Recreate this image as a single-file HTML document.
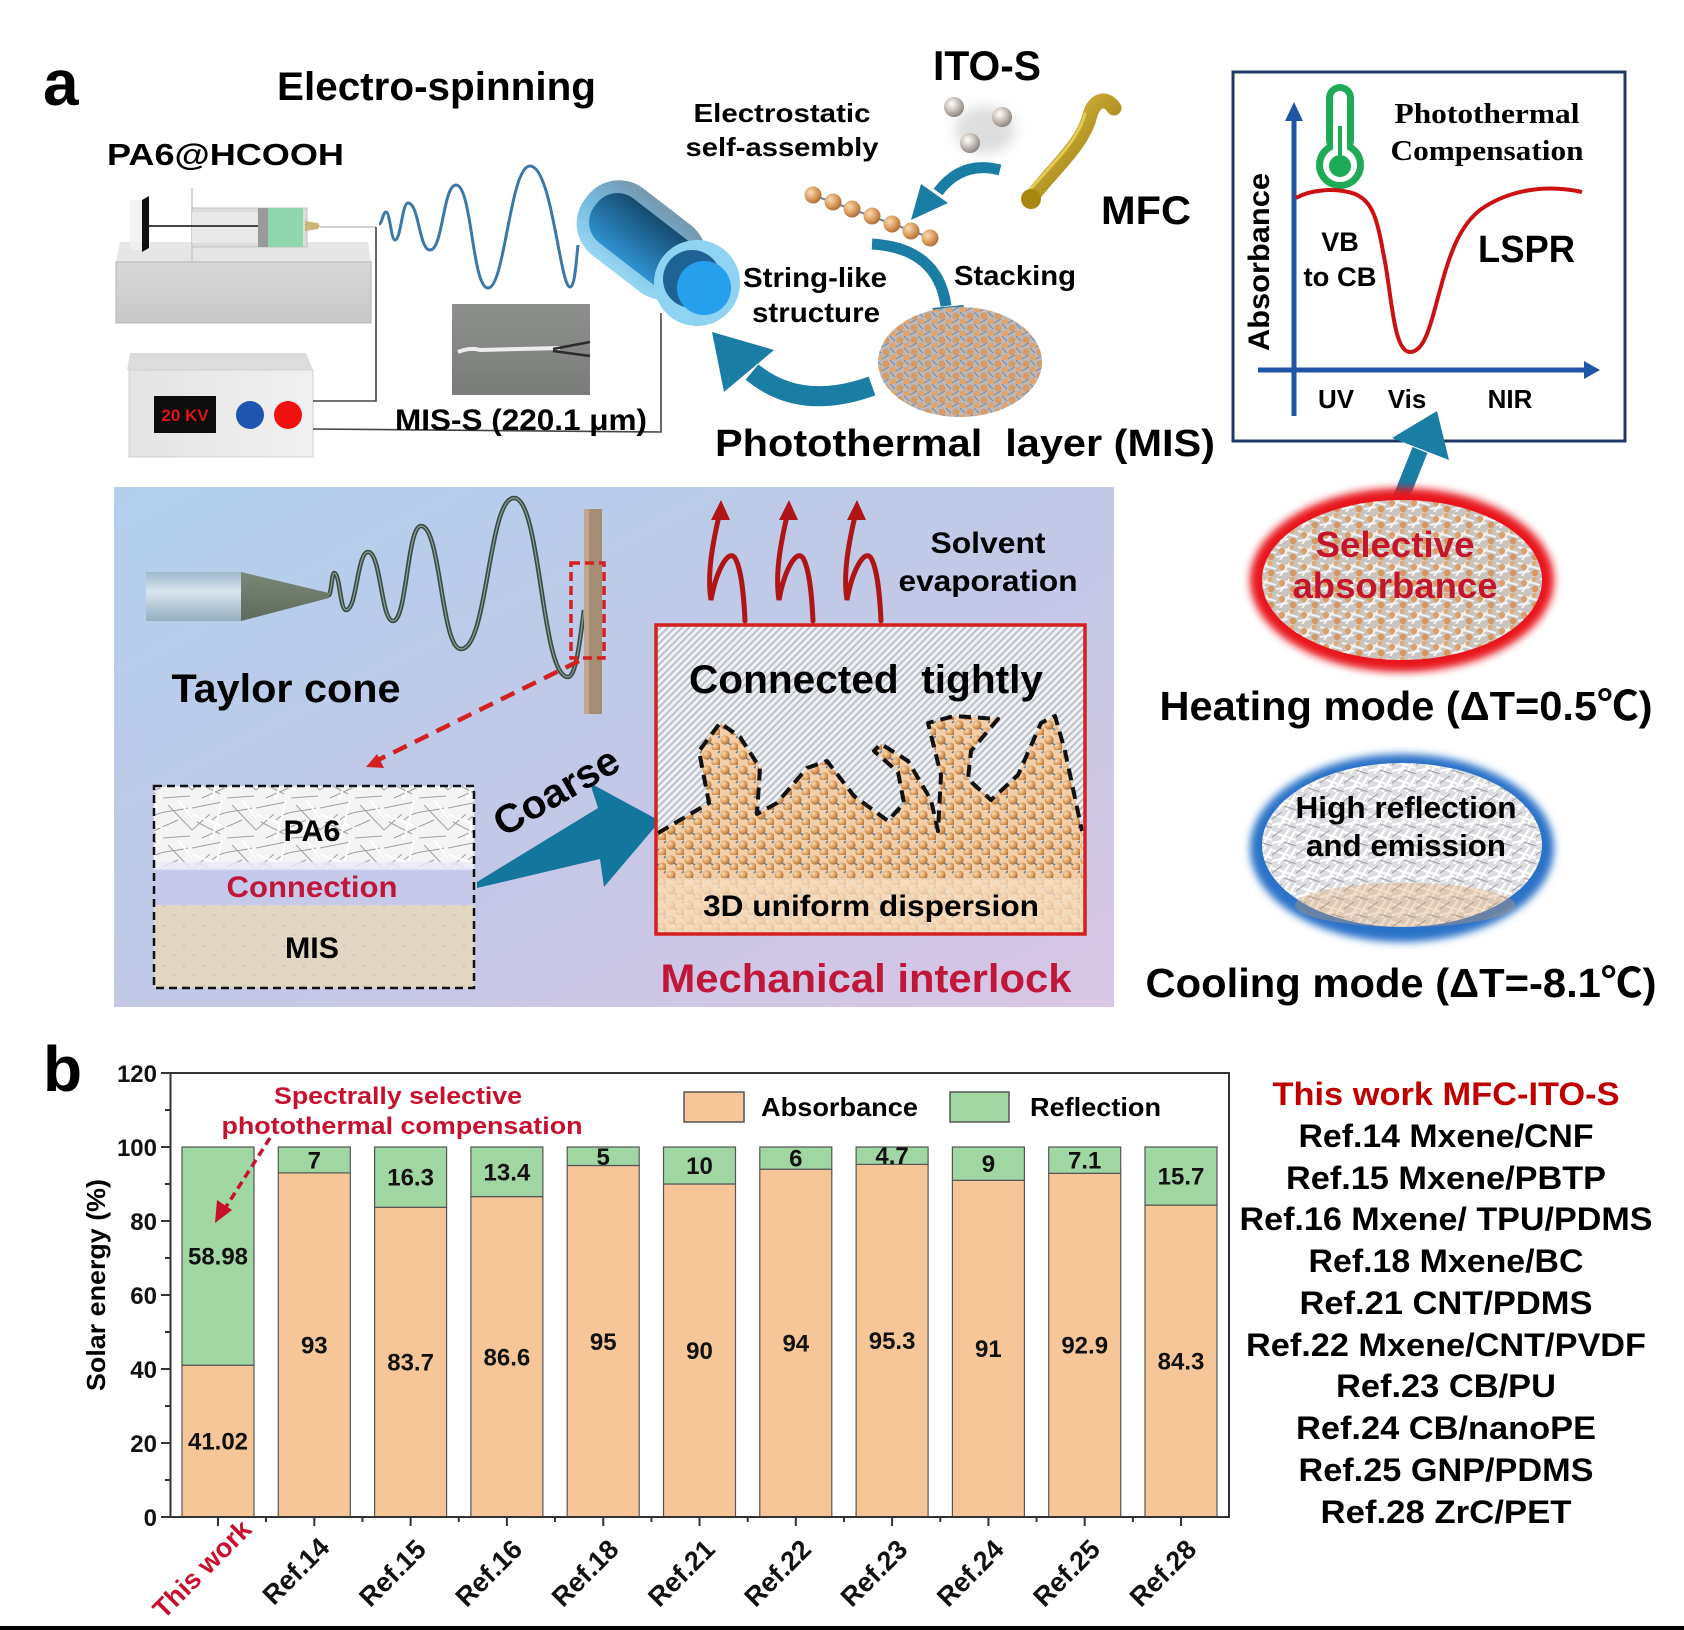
<!DOCTYPE html>
<html><head><meta charset="utf-8">
<style>
html,body{margin:0;padding:0;background:#fff;}
svg{display:block;}
text{font-family:"Liberation Sans","Noto Sans CJK SC",sans-serif;font-weight:bold;}
.sf{font-family:"Liberation Serif",serif;}
</style></head><body>
<svg xmlns="http://www.w3.org/2000/svg" width="1684" height="1630" viewBox="0 0 1684 1630">
<defs>
<linearGradient id="panel" x1="0" y1="0" x2="1" y2="1">
 <stop offset="0" stop-color="#b2d0ec"/><stop offset="0.55" stop-color="#c3c8e6"/><stop offset="1" stop-color="#d8c6e4"/>
</linearGradient>
<linearGradient id="pumpFront" x1="0" y1="0" x2="0" y2="1"><stop offset="0" stop-color="#d8d8d8"/><stop offset="1" stop-color="#c8c8c8"/></linearGradient>
<linearGradient id="boxFront" x1="0" y1="0" x2="1" y2="0"><stop offset="0" stop-color="#e4e4e4"/><stop offset="1" stop-color="#f0f0f0"/></linearGradient>
<linearGradient id="photo" x1="0" y1="0" x2="0" y2="1"><stop offset="0" stop-color="#8e908e"/><stop offset="1" stop-color="#7a7c7a"/></linearGradient>
<linearGradient id="tubeOut" x1="0" y1="0" x2="0" y2="1"><stop offset="0" stop-color="#92d4f2"/><stop offset="0.5" stop-color="#6cb6dc"/><stop offset="1" stop-color="#6e93aa"/></linearGradient>
<linearGradient id="tubeIn" x1="0" y1="0" x2="0" y2="1"><stop offset="0" stop-color="#2e93d0"/><stop offset="1" stop-color="#164b70"/></linearGradient>
<linearGradient id="needle" x1="0" y1="0" x2="0" y2="1"><stop offset="0" stop-color="#9fb8cc"/><stop offset="0.4" stop-color="#dbe6ee"/><stop offset="1" stop-color="#93adc0"/></linearGradient>
<linearGradient id="cone" x1="0" y1="0" x2="0" y2="1"><stop offset="0" stop-color="#7b8777"/><stop offset="1" stop-color="#5d6a5c"/></linearGradient>
<linearGradient id="gold" x1="0" y1="0" x2="1" y2="1"><stop offset="0" stop-color="#e6c84a"/><stop offset="1" stop-color="#8a6a06"/></linearGradient>
<radialGradient id="bead" cx="0.35" cy="0.35" r="0.7"><stop offset="0" stop-color="#f8dcb4"/><stop offset="0.6" stop-color="#d9995a"/><stop offset="1" stop-color="#a86a34"/></radialGradient>
<radialGradient id="ito" cx="0.38" cy="0.35" r="0.7"><stop offset="0" stop-color="#ffffff"/><stop offset="0.5" stop-color="#c9c1b9"/><stop offset="1" stop-color="#857f7a"/></radialGradient>
<pattern id="fib" width="64" height="40" patternUnits="userSpaceOnUse"><rect width="64" height="40" fill="#f4f4f4"/><path d="M0,8 L30,2 M10,38 L50,20 M40,5 L64,30 M20,20 C30,10 45,12 60,8 M0,30 L18,14 M35,38 L62,36 M5,22 L28,34" stroke="#a0a0a0" stroke-width="1" fill="none"/><path d="M0,14 L40,30 M30,0 L20,40 M50,0 L64,18" stroke="#fff" stroke-width="2"/></pattern>
<pattern id="misTex" width="14" height="12" patternUnits="userSpaceOnUse"><rect width="14" height="12" fill="#b9b9bf"/><circle cx="4" cy="4" r="3.6" fill="#d99b62"/><circle cx="11" cy="10" r="3.6" fill="#dfa56c"/><path d="M0,11 L7,7 M8,0 L13,5" stroke="#7b8796" stroke-width="1"/></pattern>
<pattern id="heatTex" width="22" height="16" patternUnits="userSpaceOnUse"><rect width="22" height="16" fill="#cac4be"/><path d="M0,3 L22,9 M4,16 L16,0 M0,13 L12,11" stroke="#f3f3f3" stroke-width="2"/><circle cx="6" cy="7" r="3.2" fill="#dba06a"/><circle cx="17" cy="13" r="3.2" fill="#d69660"/><circle cx="16" cy="3" r="2.6" fill="#e0aa76"/></pattern>
<pattern id="coolTex" width="24" height="18" patternUnits="userSpaceOnUse"><rect width="24" height="18" fill="#dcdde0"/><path d="M0,4 L24,12 M6,18 L18,0 M0,15 L14,12 M14,18 L24,2" stroke="#fff" stroke-width="2.2"/><path d="M0,9 L10,2 M12,14 L24,18" stroke="#9c9ca4" stroke-width="1"/></pattern>
<pattern id="parts" width="18" height="15" patternUnits="userSpaceOnUse"><rect width="18" height="15" fill="#f2cfa9"/><circle cx="5" cy="5" r="4.6" fill="url(#bead)"/><circle cx="14" cy="12" r="4.6" fill="url(#bead)"/><path d="M8,8 L11,10 M16,3 L18,1" stroke="#5f7d9e" stroke-width="1.6"/></pattern>
<pattern id="hatch" width="5" height="5" patternUnits="userSpaceOnUse" patternTransform="rotate(45)"><rect width="5" height="5" fill="#f0f1f4"/><rect width="2" height="5" fill="#bcc0c9"/></pattern>
<pattern id="beige" width="20" height="20" patternUnits="userSpaceOnUse"><rect width="20" height="20" fill="#e0d6c2"/><circle cx="4" cy="6" r="0.8" fill="#b8ab95"/><circle cx="14" cy="15" r="0.8" fill="#c2b6a0"/></pattern>
<filter id="blur4" x="-20%" y="-20%" width="140%" height="140%"><feGaussianBlur stdDeviation="4"/></filter>
<filter id="blur6" x="-20%" y="-20%" width="140%" height="140%"><feGaussianBlur stdDeviation="6"/></filter>
</defs>

<rect width="1684" height="1630" fill="#fff"/>

<!-- ================= PART A TOP ================= -->
<text x="43" y="105" font-size="64">a</text>
<text x="277" y="100" font-size="40" textLength="319" lengthAdjust="spacingAndGlyphs">Electro-spinning</text>
<text x="107" y="165" font-size="31" textLength="237" lengthAdjust="spacingAndGlyphs">PA6@HCOOH</text>

<!-- syringe pump -->
<polygon points="120,242 368,242 371,262 116,262" fill="#e6e6e6"/>
<rect x="116" y="262" width="255" height="61" fill="url(#pumpFront)" stroke="#b4b4b4" stroke-width="1"/>
<rect x="130" y="200" width="20" height="50" fill="#f0f0f0" opacity="0.8"/>
<line x1="192" y1="188" x2="192" y2="262" stroke="#c8c8c8" stroke-width="1.5"/>
<rect x="192" y="208" width="115" height="39" fill="#dcdcdc" stroke="#c0c0c0"/>
<rect x="192" y="212" width="66" height="31" fill="#e8e8e8"/>
<rect x="258" y="208" width="10" height="39" fill="#9a9a9a"/>
<rect x="268" y="208" width="35" height="39" fill="#8fd6ae"/>
<polygon points="305,221 318,223 320,226 318,229 305,231" fill="#c9b57a"/>
<line x1="148" y1="226" x2="258" y2="226" stroke="#444" stroke-width="2"/>
<polygon points="142,200 149,196 149,248 142,252" fill="#111"/>
<line x1="320" y1="227" x2="376" y2="227" stroke="#c4c4c4" stroke-width="1.5"/>

<!-- power supply -->
<polygon points="130,353 306,353 313,370 127,370" fill="#dcdcdc"/>
<rect x="129" y="370" width="184" height="87" fill="url(#boxFront)" stroke="#d0d0d0"/>
<rect x="154" y="396" width="62" height="37" fill="#0c0c0c"/>
<text x="185" y="421" font-size="17" fill="#e01414" text-anchor="middle">20 KV</text>
<circle cx="250" cy="415" r="14" fill="#1f55b0"/>
<circle cx="288" cy="415" r="14" fill="#f01010"/>

<!-- wires -->
<polyline points="376,227 376,401 313,401" fill="none" stroke="#444" stroke-width="1.6"/>
<polyline points="313,429 661,432 661,313" fill="none" stroke="#444" stroke-width="1.6"/>

<!-- photo -->
<rect x="452" y="304" width="138" height="91" fill="url(#photo)"/>
<path d="M458,352 Q470,347 480,350 L560,348" stroke="#ececec" stroke-width="4" fill="none"/>
<path d="M553,349 L590,342 M553,351 L590,356" stroke="#2a2a2a" stroke-width="2.5"/>
<text x="395" y="430" font-size="30" textLength="252" lengthAdjust="spacingAndGlyphs">MIS-S (220.1 μm)</text>

<!-- blue spiral -->
<path d="M379,224 C382,224 383,212 386,212 C390,212 391,240 395,240 C401,240 402,203 408,203 C419,203 419,250 430,250 C443,250 443,185 456,185 C472,185 472,288 488,288 C505,288 510,166 530,166 C552,166 560,287 570,287 C575,287 576,262 578,245" fill="none" stroke="#3a78a8" stroke-width="3"/>

<!-- collector tube -->
<g transform="translate(697,283) rotate(-142.3)">
 <rect x="0" y="-42" width="140" height="84" rx="40" fill="url(#tubeOut)" opacity="0.95"/>
 <rect x="0" y="-28" width="128" height="56" rx="26" fill="url(#tubeIn)"/>
</g>
<circle cx="697" cy="283" r="43" fill="#8fd3f3"/>
<circle cx="692" cy="279" r="29" fill="#1d6494"/>
<circle cx="704" cy="288" r="27" fill="#26a0ec"/>

<!-- ITO-S and MFC -->
<text x="933" y="80" font-size="42" textLength="108" lengthAdjust="spacingAndGlyphs">ITO-S</text>
<text x="782" y="122" font-size="26" text-anchor="middle" textLength="177" lengthAdjust="spacingAndGlyphs">Electrostatic</text>
<text x="782" y="156" font-size="26" text-anchor="middle" textLength="193" lengthAdjust="spacingAndGlyphs">self-assembly</text>
<ellipse cx="985" cy="130" rx="30" ry="24" fill="#c8c8c8" opacity="0.6" filter="url(#blur6)"/>
<circle cx="954" cy="107" r="10" fill="url(#ito)"/>
<circle cx="1002" cy="117" r="10" fill="url(#ito)"/>
<circle cx="970" cy="143" r="10" fill="url(#ito)"/>
<path d="M1031,198 C1050,172 1083,145 1090,115 C1094,100 1106,96 1114,108" fill="none" stroke="url(#gold)" stroke-width="15" stroke-linecap="round"/>
<path d="M1028,192 C1048,168 1078,142 1085,114" fill="none" stroke="#efd460" stroke-width="3" stroke-linecap="round" opacity="0.8"/>
<circle cx="1031" cy="199" r="10" fill="#a88610"/>
<text x="1101" y="224" font-size="40" textLength="90" lengthAdjust="spacingAndGlyphs">MFC</text>

<!-- bead chain -->
<line x1="810" y1="194" x2="934" y2="239" stroke="#6a7f9a" stroke-width="2"/>
<circle cx="813" cy="195" r="8.5" fill="url(#bead)"/>
<circle cx="833" cy="202" r="8.5" fill="url(#bead)"/>
<circle cx="852" cy="209" r="8.5" fill="url(#bead)"/>
<circle cx="872" cy="216" r="8.5" fill="url(#bead)"/>
<circle cx="892" cy="224" r="8.5" fill="url(#bead)"/>
<circle cx="911" cy="231" r="8.5" fill="url(#bead)"/>
<circle cx="930" cy="238" r="8.5" fill="url(#bead)"/>

<!-- teal arrows -->
<path d="M1000,170 Q962,160 938,192" fill="none" stroke="#1a7da3" stroke-width="11"/>
<polygon points="911,220 921,184 948,203" fill="#1a7da3"/>
<path d="M872,244 Q938,248 946,306" fill="none" stroke="#1a7da3" stroke-width="11"/>
<polygon points="953,339 932,308 964,305" fill="#1a7da3"/>
<path d="M872,386 Q800,412 752,372" fill="none" stroke="#1a7da3" stroke-width="20"/>
<polygon points="712,332 724,392 774,350" fill="#1a7da3"/>

<text x="815" y="287" font-size="28" text-anchor="middle" textLength="144" lengthAdjust="spacingAndGlyphs">String-like</text>
<text x="816" y="322" font-size="28" text-anchor="middle" textLength="128" lengthAdjust="spacingAndGlyphs">structure</text>
<text x="1015" y="285" font-size="28" text-anchor="middle" textLength="122" lengthAdjust="spacingAndGlyphs">Stacking</text>

<!-- MIS disc -->
<ellipse cx="960" cy="362" rx="82" ry="55" fill="url(#misTex)"/>
<text x="715" y="456" font-size="38" textLength="500" lengthAdjust="spacingAndGlyphs">Photothermal&#160; layer (MIS)</text>

<!-- right box -->
<rect x="1233" y="72" width="392" height="369" fill="#fff" stroke="#1f3864" stroke-width="3"/>
<line x1="1294" y1="416" x2="1294" y2="116" stroke="#1f55a5" stroke-width="5"/>
<polygon points="1294,102 1285,121 1303,121" fill="#1f55a5"/>
<line x1="1258" y1="370" x2="1588" y2="370" stroke="#1f55a5" stroke-width="5"/>
<polygon points="1600,370 1584,361 1584,379" fill="#1f55a5"/>
<rect x="1326" y="84" width="28" height="70" rx="14" fill="#1faa55"/>
<circle cx="1340" cy="165" r="24" fill="#1faa55"/>
<rect x="1333" y="91" width="14" height="66" rx="7" fill="#fff"/>
<circle cx="1340" cy="165" r="17" fill="#fff"/>
<circle cx="1340" cy="166" r="11" fill="#1faa55"/>
<rect x="1338" y="126" width="4" height="36" fill="#1faa55"/>
<text class="sf" x="1487" y="123" font-size="29" text-anchor="middle" textLength="185" lengthAdjust="spacingAndGlyphs">Photothermal</text>
<text class="sf" x="1487" y="160" font-size="29" text-anchor="middle" textLength="193" lengthAdjust="spacingAndGlyphs">Compensation</text>
<path d="M1296,198 C1310,190 1335,187 1355,194 C1375,202 1378,225 1385,262 C1392,300 1394,352 1410,352 C1426,352 1432,318 1440,290 C1450,252 1460,226 1480,210 C1508,190 1545,184 1582,192" fill="none" stroke="#cc1111" stroke-width="4"/>
<text x="1340" y="251" font-size="27" text-anchor="middle">VB</text>
<text x="1340" y="286" font-size="27" text-anchor="middle" textLength="73" lengthAdjust="spacingAndGlyphs">to CB</text>
<text x="1478" y="262" font-size="38" textLength="97" lengthAdjust="spacingAndGlyphs">LSPR</text>
<text x="1336" y="408" font-size="26" text-anchor="middle">UV</text>
<text x="1407" y="408" font-size="26" text-anchor="middle">Vis</text>
<text x="1510" y="408" font-size="26" text-anchor="middle">NIR</text>
<text transform="translate(1269,262) rotate(-90)" font-size="30" text-anchor="middle" textLength="178" lengthAdjust="spacingAndGlyphs">Absorbance</text>

<!-- teal arrow up from heating disc -->
<path d="M1398,505 L1420,450" stroke="#1a7da3" stroke-width="16"/>
<polygon points="1437,411 1392,438 1449,460" fill="#1a7da3"/>

<!-- ================= MIDDLE PANEL ================= -->
<rect x="114" y="487" width="1000" height="520" fill="url(#panel)"/>
<rect x="146" y="572" width="95" height="49" fill="url(#needle)"/>
<polygon points="241,572 241,621 329,598 329,593" fill="url(#cone)"/>
<path d="M329,595 C331,595 332,573 334,573 C340,573 340,610 346,610 C357,610 357,552 368,552 C381,552 381,621 393,621 C407,621 407,526 421,526 C441,526 441,649 461,649 C488,649 488,498 514,498 C541,498 541,677 568,677 C576,677 580,640 584,610" fill="none" stroke="#3a4c44" stroke-width="4.5"/>
<path d="M329,595 C331,595 332,573 334,573 C340,573 340,610 346,610 C357,610 357,552 368,552 C381,552 381,621 393,621 C407,621 407,526 421,526 C441,526 441,649 461,649 C488,649 488,498 514,498 C541,498 541,677 568,677 C576,677 580,640 584,610" fill="none" stroke="#8ea298" stroke-width="1.2"/>
<rect x="584" y="509" width="18" height="205" fill="#a58c75"/>
<rect x="584" y="509" width="5" height="205" fill="#c0a890"/>
<rect x="571" y="563" width="33" height="95" fill="none" stroke="#d42020" stroke-width="3.5" stroke-dasharray="9,5"/>
<line x1="579" y1="661" x2="378" y2="760" stroke="#d42020" stroke-width="4.5" stroke-dasharray="15,9"/>
<polygon points="366,767 384,768 377,754" fill="#d42020"/>
<text x="286" y="702" font-size="40" text-anchor="middle" textLength="229" lengthAdjust="spacingAndGlyphs">Taylor cone</text>

<rect x="154" y="786" width="320" height="82" fill="url(#fib)"/>
<rect x="154" y="868" width="320" height="37" fill="#c6c9e9"/>
<rect x="154" y="862" width="320" height="8" fill="#e8eaf6" opacity="0.8"/>
<rect x="154" y="905" width="320" height="83" fill="url(#beige)"/>
<rect x="154" y="786" width="320" height="202" fill="none" stroke="#111" stroke-width="2.5" stroke-dasharray="8,5"/>
<text x="312" y="841" font-size="30" text-anchor="middle" textLength="57" lengthAdjust="spacingAndGlyphs">PA6</text>
<text x="312" y="897" font-size="30" text-anchor="middle" fill="#c0163a" textLength="171" lengthAdjust="spacingAndGlyphs">Connection</text>
<text x="312" y="958" font-size="30" text-anchor="middle" textLength="54" lengthAdjust="spacingAndGlyphs">MIS</text>

<polygon points="477,882 598,808 590,783 660,821 604,887 600,859 477,888" fill="#13769d"/>
<text transform="translate(563,803) rotate(-30)" font-size="40" text-anchor="middle" textLength="138" lengthAdjust="spacingAndGlyphs">Coarse</text>

<!-- squiggle arrows -->
<g fill="none" stroke="#b01515" stroke-width="5" stroke-linecap="round">
 <path d="M745,621 C744,600 742,570 735,558 C728,548 716,572 711,600 C707,575 712,545 720,512"/>
 <path d="M813,621 C812,600 810,570 803,558 C796,548 784,572 779,600 C775,575 780,545 788,512"/>
 <path d="M881,621 C880,600 878,570 871,558 C864,548 852,572 847,600 C843,575 848,545 856,512"/>
</g>
<g fill="#b01515">
 <polygon points="721,500 711,520 730,520"/>
 <polygon points="789,500 779,520 798,520"/>
 <polygon points="857,500 847,520 866,520"/>
</g>
<text x="988" y="553" font-size="30" text-anchor="middle" textLength="115" lengthAdjust="spacingAndGlyphs">Solvent</text>
<text x="988" y="591" font-size="30" text-anchor="middle" textLength="179" lengthAdjust="spacingAndGlyphs">evaporation</text>

<!-- red box -->
<rect x="656" y="625" width="429" height="309" fill="url(#hatch)"/>
<polygon points="658,833 709,803 699,751 720,723 740,737 760,768 757,814 777,803 807,768 827,761 854,796 888,821 904,803 898,772 874,751 881,744 908,761 931,800 938,831 941,775 928,723 954,716 998,719 971,751 968,779 991,800 1018,775 1041,723 1055,716 1065,751 1082,831 1084,934 657,934" fill="url(#parts)"/>
<rect x="657" y="878" width="427" height="56" fill="#f7ddc3" opacity="0.75"/>
<polyline points="658,833 709,803 699,751 720,723 740,737 760,768 757,814 777,803 807,768 827,761 854,796 888,821 904,803 898,772 874,751 881,744 908,761 931,800 938,831 941,775 928,723 954,716 998,719 971,751 968,779 991,800 1018,775 1041,723 1055,716 1065,751 1082,831" fill="none" stroke="#111" stroke-width="4" stroke-dasharray="12,7" stroke-linejoin="round"/>
<rect x="656" y="625" width="429" height="309" fill="none" stroke="#d42020" stroke-width="3.5"/>
<text x="866" y="693" font-size="40" text-anchor="middle" textLength="354" lengthAdjust="spacingAndGlyphs">Connected&#160; tightly</text>
<text x="871" y="916" font-size="30" text-anchor="middle" textLength="336" lengthAdjust="spacingAndGlyphs">3D uniform dispersion</text>
<text x="866" y="992" font-size="40" text-anchor="middle" fill="#c0163a" textLength="411" lengthAdjust="spacingAndGlyphs">Mechanical interlock</text>

<!-- ================= RIGHT DISCS ================= -->
<ellipse cx="1402" cy="580" rx="152" ry="92" fill="#e8141c" filter="url(#blur4)"/>
<ellipse cx="1402" cy="580" rx="140" ry="80" fill="url(#heatTex)"/>
<text x="1395" y="557" font-size="36" text-anchor="middle" fill="#c4162a" textLength="159" lengthAdjust="spacingAndGlyphs">Selective</text>
<text x="1395" y="598" font-size="36" text-anchor="middle" fill="#c4162a" textLength="205" lengthAdjust="spacingAndGlyphs">absorbance</text>
<text x="1406" y="720" font-size="41" text-anchor="middle" textLength="493" lengthAdjust="spacingAndGlyphs">Heating mode (ΔT=0.5℃)</text>

<ellipse cx="1402" cy="848" rx="152" ry="94" fill="#2a72c8" filter="url(#blur4)"/>
<ellipse cx="1402" cy="845" rx="140" ry="82" fill="url(#coolTex)"/>
<ellipse cx="1405" cy="905" rx="110" ry="22" fill="#d9a06a" opacity="0.35"/>
<text x="1406" y="818" font-size="31" text-anchor="middle" textLength="221" lengthAdjust="spacingAndGlyphs">High reflection</text>
<text x="1406" y="856" font-size="31" text-anchor="middle" textLength="200" lengthAdjust="spacingAndGlyphs">and emission</text>
<text x="1401" y="997" font-size="41" text-anchor="middle" textLength="511" lengthAdjust="spacingAndGlyphs">Cooling mode (ΔT=-8.1℃)</text>

<!-- ================= PART B ================= -->
<text x="43" y="1091" font-size="64">b</text>

<g stroke="#555" stroke-width="1.2">
 <rect x="182" y="1365.2" width="72" height="151.8" fill="#f6c699"/>
 <rect x="182" y="1147" width="72" height="218.2" fill="#a0d6a2"/>
 <rect x="278.3" y="1172.9" width="72" height="344.1" fill="#f6c699"/>
 <rect x="278.3" y="1147" width="72" height="25.9" fill="#a0d6a2"/>
 <rect x="374.6" y="1207.3" width="72" height="309.7" fill="#f6c699"/>
 <rect x="374.6" y="1147" width="72" height="60.3" fill="#a0d6a2"/>
 <rect x="470.9" y="1196.6" width="72" height="320.4" fill="#f6c699"/>
 <rect x="470.9" y="1147" width="72" height="49.6" fill="#a0d6a2"/>
 <rect x="567.2" y="1165.5" width="72" height="351.5" fill="#f6c699"/>
 <rect x="567.2" y="1147" width="72" height="18.5" fill="#a0d6a2"/>
 <rect x="663.5" y="1184" width="72" height="333" fill="#f6c699"/>
 <rect x="663.5" y="1147" width="72" height="37" fill="#a0d6a2"/>
 <rect x="759.8" y="1169.2" width="72" height="347.8" fill="#f6c699"/>
 <rect x="759.8" y="1147" width="72" height="22.2" fill="#a0d6a2"/>
 <rect x="856.1" y="1164.4" width="72" height="352.6" fill="#f6c699"/>
 <rect x="856.1" y="1147" width="72" height="17.4" fill="#a0d6a2"/>
 <rect x="952.4" y="1180.3" width="72" height="336.7" fill="#f6c699"/>
 <rect x="952.4" y="1147" width="72" height="33.3" fill="#a0d6a2"/>
 <rect x="1048.7" y="1173.3" width="72" height="343.7" fill="#f6c699"/>
 <rect x="1048.7" y="1147" width="72" height="26.3" fill="#a0d6a2"/>
 <rect x="1145" y="1205.1" width="72" height="311.9" fill="#f6c699"/>
 <rect x="1145" y="1147" width="72" height="58.1" fill="#a0d6a2"/>
</g>

<g font-size="24" text-anchor="middle" fill="#111">
 <text x="218" y="1449.6">41.02</text><text x="218" y="1264.6">58.98</text>
 <text x="314.3" y="1353.5">93</text><text x="314.3" y="1168.5">7</text>
 <text x="410.6" y="1370.7">83.7</text><text x="410.6" y="1185.7">16.3</text>
 <text x="506.9" y="1365.3">86.6</text><text x="506.9" y="1180.3">13.4</text>
 <text x="603.2" y="1349.8">95</text><text x="603.2" y="1164.8">5</text>
 <text x="699.5" y="1359">90</text><text x="699.5" y="1174">10</text>
 <text x="795.8" y="1351.6">94</text><text x="795.8" y="1166.6">6</text>
 <text x="892.1" y="1349.2">95.3</text><text x="892.1" y="1164.2">4.7</text>
 <text x="988.4" y="1357.2">91</text><text x="988.4" y="1172.2">9</text>
 <text x="1084.7" y="1353.6">92.9</text><text x="1084.7" y="1168.6">7.1</text>
 <text x="1181" y="1369.5">84.3</text><text x="1181" y="1184.5">15.7</text>
</g>

<!-- frame -->
<rect x="170.5" y="1073" width="1058.5" height="444" fill="none" stroke="#333" stroke-width="2"/>
<g stroke="#333" stroke-width="2">
 <line x1="161" y1="1517" x2="170" y2="1517"/><line x1="161" y1="1443" x2="170" y2="1443"/>
 <line x1="161" y1="1369" x2="170" y2="1369"/><line x1="161" y1="1295" x2="170" y2="1295"/>
 <line x1="161" y1="1221" x2="170" y2="1221"/><line x1="161" y1="1147" x2="170" y2="1147"/>
 <line x1="161" y1="1073" x2="170" y2="1073"/>
 <line x1="165" y1="1480" x2="170" y2="1480"/><line x1="165" y1="1406" x2="170" y2="1406"/>
 <line x1="165" y1="1332" x2="170" y2="1332"/><line x1="165" y1="1258" x2="170" y2="1258"/>
 <line x1="165" y1="1184" x2="170" y2="1184"/><line x1="165" y1="1110" x2="170" y2="1110"/>
 <line x1="218" y1="1517" x2="218" y2="1526"/><line x1="314.3" y1="1517" x2="314.3" y2="1526"/>
 <line x1="410.6" y1="1517" x2="410.6" y2="1526"/><line x1="506.9" y1="1517" x2="506.9" y2="1526"/>
 <line x1="603.2" y1="1517" x2="603.2" y2="1526"/><line x1="699.5" y1="1517" x2="699.5" y2="1526"/>
 <line x1="795.8" y1="1517" x2="795.8" y2="1526"/><line x1="892.1" y1="1517" x2="892.1" y2="1526"/>
 <line x1="988.4" y1="1517" x2="988.4" y2="1526"/><line x1="1084.7" y1="1517" x2="1084.7" y2="1526"/>
 <line x1="1181" y1="1517" x2="1181" y2="1526"/>
 <line x1="266" y1="1517" x2="266" y2="1522"/><line x1="362.5" y1="1517" x2="362.5" y2="1522"/>
 <line x1="458.8" y1="1517" x2="458.8" y2="1522"/><line x1="555" y1="1517" x2="555" y2="1522"/>
 <line x1="651.4" y1="1517" x2="651.4" y2="1522"/><line x1="747.7" y1="1517" x2="747.7" y2="1522"/>
 <line x1="844" y1="1517" x2="844" y2="1522"/><line x1="940.3" y1="1517" x2="940.3" y2="1522"/>
 <line x1="1036.6" y1="1517" x2="1036.6" y2="1522"/><line x1="1132.9" y1="1517" x2="1132.9" y2="1522"/>
</g>
<g font-size="24" text-anchor="end" fill="#111">
 <text x="157" y="1526">0</text><text x="157" y="1452">20</text><text x="157" y="1378">40</text>
 <text x="157" y="1304">60</text><text x="157" y="1230">80</text><text x="157" y="1156">100</text>
 <text x="157" y="1082">120</text>
</g>
<text transform="translate(105,1285) rotate(-90)" font-size="26" text-anchor="middle" textLength="212" lengthAdjust="spacingAndGlyphs">Solar energy (%)</text>

<g font-size="27" text-anchor="end" fill="#111">
 <text transform="translate(253,1531) rotate(-45)" fill="#c8102e">This work</text>
 <text transform="translate(331,1549) rotate(-45)">Ref.14</text>
 <text transform="translate(427.6,1551) rotate(-45)">Ref.15</text>
 <text transform="translate(523.9,1551) rotate(-45)">Ref.16</text>
 <text transform="translate(620.2,1551) rotate(-45)">Ref.18</text>
 <text transform="translate(716.5,1551) rotate(-45)">Ref.21</text>
 <text transform="translate(812.8,1551) rotate(-45)">Ref.22</text>
 <text transform="translate(909.1,1551) rotate(-45)">Ref.23</text>
 <text transform="translate(1005.4,1551) rotate(-45)">Ref.24</text>
 <text transform="translate(1101.7,1551) rotate(-45)">Ref.25</text>
 <text transform="translate(1198,1551) rotate(-45)">Ref.28</text>
</g>

<!-- legend -->
<rect x="684" y="1092" width="60" height="30" fill="#f6c699" stroke="#555" stroke-width="1.5"/>
<text x="761" y="1116" font-size="26" textLength="157" lengthAdjust="spacingAndGlyphs">Absorbance</text>
<rect x="950" y="1092" width="59" height="30" fill="#a0d6a2" stroke="#555" stroke-width="1.5"/>
<text x="1030" y="1116" font-size="26" textLength="131" lengthAdjust="spacingAndGlyphs">Reflection</text>

<text x="398" y="1104" font-size="24" text-anchor="middle" fill="#c8102e" textLength="248" lengthAdjust="spacingAndGlyphs">Spectrally selective</text>
<text x="402" y="1134" font-size="24" text-anchor="middle" fill="#c8102e" textLength="361" lengthAdjust="spacingAndGlyphs">photothermal compensation</text>
<line x1="270" y1="1138" x2="224" y2="1210" stroke="#c8102e" stroke-width="3.5" stroke-dasharray="8,5"/>
<polygon points="215,1223 217,1200 232,1210" fill="#c8102e"/>

<!-- right list -->
<g font-size="32" text-anchor="middle">
 <text x="1446" y="1105" fill="#c00000" textLength="347" lengthAdjust="spacingAndGlyphs">This work MFC-ITO-S</text>
 <text x="1446" y="1147" textLength="295" lengthAdjust="spacingAndGlyphs">Ref.14 Mxene/CNF</text>
 <text x="1446" y="1189" textLength="320" lengthAdjust="spacingAndGlyphs">Ref.15 Mxene/PBTP</text>
 <text x="1446" y="1230" textLength="413" lengthAdjust="spacingAndGlyphs">Ref.16 Mxene/ TPU/PDMS</text>
 <text x="1446" y="1272" textLength="275" lengthAdjust="spacingAndGlyphs">Ref.18 Mxene/BC</text>
 <text x="1446" y="1314" textLength="293" lengthAdjust="spacingAndGlyphs">Ref.21 CNT/PDMS</text>
 <text x="1446" y="1356" textLength="400" lengthAdjust="spacingAndGlyphs">Ref.22 Mxene/CNT/PVDF</text>
 <text x="1446" y="1397" textLength="220" lengthAdjust="spacingAndGlyphs">Ref.23 CB/PU</text>
 <text x="1446" y="1439" textLength="300" lengthAdjust="spacingAndGlyphs">Ref.24 CB/nanoPE</text>
 <text x="1446" y="1481" textLength="295" lengthAdjust="spacingAndGlyphs">Ref.25 GNP/PDMS</text>
 <text x="1446" y="1523" textLength="251" lengthAdjust="spacingAndGlyphs">Ref.28 ZrC/PET</text>
</g>

<rect x="0" y="1626" width="1684" height="4" fill="#000"/>
</svg>
</body></html>
